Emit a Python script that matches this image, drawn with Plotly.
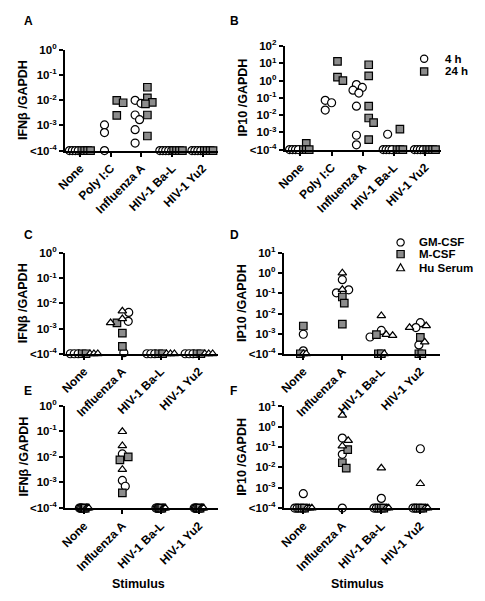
import numpy as np
import plotly.graph_objects as go

W, H = 485, 601
F = 1e-4  # detection floor, drawn as "<10^-4"

cats_ab = ["None", "Poly I:C", "Influenza A", "HIV-1 Ba-L", "HIV-1 Yu2"]
cats_cf = ["None", "Influenza A", "HIV-1 Ba-L", "HIV-1 Yu2"]

# ---- Panel A: IFNb / GAPDH (per stimulus) ----
A_4h = [[F, F, F, F],
        [1.05e-3, 5.2e-4, F],
        [1.0e-2, 7.6e-3, 2.6e-3, 1.7e-3, 6.8e-4, 2.0e-4],
        [F, F, F, F, F],
        [F, F, F, F]]
A_24h = [[F, F, F, F],
         [1.0e-2, 8.0e-3, 2.5e-3],
         [3.3e-2, 1.26e-2, 8.3e-3, 7.2e-3, 2.6e-3, 3.8e-4],
         [F, F, F, F],
         [F, F, F, F]]

# ---- Panel B: IP10 / GAPDH ----
B_4h = [[F, F, F, F],
        [7.2e-2, 5.2e-2, 1.95e-2],
        [0.59, 0.40, 0.28, 0.19, 3.3e-2, 6.8e-4, 1.9e-4],
        [7.8e-4, F, F, F, F],
        [F, F, F, F]]
B_24h = [[2.3e-4, F, F, F],
         [12.9, 1.6, 1.0],
         [8.3, 1.9, 3.3e-2, 6.8e-3, 3.7e-3, 3.8e-4],
         [1.55e-3, F, F, F],
         [F, F, F, F]]

# ---- Panel C: IFNb / GAPDH by culture ----
C_gm = [[F, F, F], [4.4e-3, 1.95e-3, 1.1e-4], [F, F, F], [F, F, F]]
C_m = [[F, F], [1.7e-3, 6.6e-4, 1.95e-4], [F, F], [F, F]]
C_hu = [[F, F, F], [5.0e-3, 2.45e-3, 1.7e-3], [F, F, F], [F, F, F]]

# ---- Panel D: IP10 / GAPDH by culture ----
D_gm = [[9.3e-4, 1.4e-4], [0.48, 0.15, 0.107], [1.45e-3, 6.8e-4], [3.5e-3, 2.0e-3, 2.75e-4]]
D_m = [[2.4e-3, F], [6.6e-2, 3.3e-2, 3.0e-3], [8.9e-4, F, F], [6.5e-4, F, F]]
D_hu = [[F, F], [1.04, 0.155], [7.8e-3, 9.0e-4, 8.0e-4, F], [2.45e-3, 2.0e-3, 3.8e-4]]

# ---- Panel E: IFNb / GAPDH ----
E_gm = [[F, F, F], [1.3e-2, 1.2e-3, 7.1e-4], [F, F, F], [F, F, F]]
E_m = [[F, F, F], [1.0e-2, 7.6e-3, 3.9e-4], [F, F, F], [F, F, F]]
E_hu = [[F, F, F], [9.6e-2, 2.7e-2, 3.2e-3], [F, F, F], [F, F, F]]

# ---- Panel F: IP10 / GAPDH ----
F_gm = [[5.1e-4, F, F], [0.28, 0.044, F], [3.0e-4, F, F], [8.3e-2, F, F]]
F_m = [[F, F, F], [7.6e-2, 1.7e-2, 9.3e-3], [F, F, F], [F, F, F]]
F_hu = [[F, F, F], [3.7, 0.21, 0.115], [9.3e-3, F, F], [1.6e-3, F, F]]

FONT = "Liberation Sans, Arial, sans-serif"
GRAY = "#8c8c8c"
STYLE = {
    "circle": dict(symbol="circle", size=8, color="white", line=dict(color="black", width=1.2)),
    "square": dict(symbol="square", size=7.5, color=GRAY, line=dict(color="black", width=1.2)),
    "triangle": dict(symbol="triangle-up", size=7.5, color="white", line=dict(color="black", width=1.2)),
}

# panel boxes in pixels: (x_left, x_right, y_top, y_bottom)
panels = [
    dict(letter="A", box=(57, 213, 43, 146), top=0, cats=cats_ab, mode="side", gap=3.0,
         series=[("4 h", A_4h, "circle"), ("24 h", A_24h, "square")], ylab="IFNβ /GAPDH"),
    dict(letter="B", box=(281, 440, 39, 145), top=2, cats=cats_ab, mode="side", gap=3.0,
         series=[("4 h", B_4h, "circle"), ("24 h", B_24h, "square")], ylab="IP10 /GAPDH"),
    dict(letter="C", box=(57, 213, 251, 354), top=0, cats=cats_cf, mode="shared", gap=4.0,
         series=[("GM-CSF", C_gm, "circle"), ("M-CSF", C_m, "square"), ("Hu Serum", C_hu, "triangle")],
         ylab="IFNβ /GAPDH"),
    dict(letter="D", box=(280, 439, 251, 354), top=1, cats=cats_cf, mode="shared", gap=3.0,
         series=[("GM-CSF", D_gm, "circle"), ("M-CSF", D_m, "square"), ("Hu Serum", D_hu, "triangle")],
         ylab="IP10 /GAPDH"),
    dict(letter="E", box=(57, 213, 407, 512), top=0, cats=cats_cf, mode="shared", gap=1.2,
         series=[("GM-CSF", E_gm, "circle"), ("M-CSF", E_m, "square"), ("Hu Serum", E_hu, "triangle")],
         ylab="IFNβ /GAPDH"),
    dict(letter="F", box=(280, 439, 408, 512), top=1, cats=cats_cf, mode="shared", gap=2.5,
         series=[("GM-CSF", F_gm, "circle"), ("M-CSF", F_m, "square"), ("Hu Serum", F_hu, "triangle")],
         ylab="IP10 /GAPDH"),
]


def swarm(vals, sidx, gap, px_dec, min_d=6.5):
    """Return horizontal pixel offsets for points (beeswarm); floor values in a row."""
    offs = [0.0] * len(vals)
    floor_ids = sorted([i for i, v in enumerate(vals) if v <= F], key=lambda i: (sidx[i], i))
    n = len(floor_ids)
    for k, i in enumerate(floor_ids):
        offs[i] = (k - (n - 1) / 2) * gap
    rest = sorted([i for i, v in enumerate(vals) if v > F], key=lambda i: -vals[i])
    placed = []
    cands = [0.0]
    for s in range(1, 60):
        cands += [s * 0.5, -s * 0.5]
    for i in rest:
        y = np.log10(vals[i]) * px_dec
        for c in cands:
            if all((c - po) ** 2 + (y - py) ** 2 >= min_d ** 2 for po, py in placed):
                break
        placed.append((c, y))
        offs[i] = c
    return offs


fig = go.Figure()
annotations = []
shapes = []
SIDE_SHIFT = [-6.5, 6.0]

for p_i, p in enumerate(panels, start=1):
    xl, xr, yt, yb = p["box"]
    ncat = len(p["cats"])
    px_x = (xr - xl) / ncat
    px_dec = (yb - yt) / (p["top"] + 4)
    xs = {s[0]: [] for s in p["series"]}
    ys = {s[0]: [] for s in p["series"]}
    for c in range(ncat):
        if p["mode"] == "side":
            for s_i, (name, data, sym) in enumerate(p["series"]):
                vals = data[c]
                offs = swarm(vals, [0] * len(vals), p["gap"], px_dec)
                for v, o in zip(vals, offs):
                    xs[name].append(c + (SIDE_SHIFT[s_i] + o) / px_x)
                    ys[name].append(v)
        else:
            vals, sidx = [], []
            for s_i, (name, data, sym) in enumerate(p["series"]):
                vals += data[c]
                sidx += [s_i] * len(data[c])
            offs = swarm(vals, sidx, p["gap"], px_dec)
            for v, o, si in zip(vals, offs, sidx):
                name = p["series"][si][0]
                xs[name].append(c + o / px_x)
                ys[name].append(v)
    ax = "" if p_i == 1 else str(p_i)
    for name, data, sym in p["series"]:
        fig.add_trace(go.Scatter(x=xs[name], y=ys[name], mode="markers", marker=STYLE[sym],
                                 cliponaxis=False, showlegend=False, name=name,
                                 xaxis="x" + ax, yaxis="y" + ax))
    tickv = [10.0 ** k for k in range(-4, p["top"] + 1)]
    tickt = ["<b>&lt;10<sup>-4</sup></b>"] + ["<b>10<sup>%d</sup></b>" % k for k in range(-3, p["top"] + 1)]
    common = dict(showline=True, linewidth=2, linecolor="black", ticks="outside", ticklen=4,
                  tickwidth=2, tickcolor="black", showgrid=False, zeroline=False)
    fig.layout["xaxis" + ax] = dict(domain=[xl / W, xr / W], range=[-0.5, ncat - 0.5],
                                    tickvals=list(range(ncat)),
                                    ticktext=["<b>%s</b>" % c for c in p["cats"]], tickangle=-45,
                                    tickfont=dict(family=FONT, size=12, color="black"),
                                    anchor="y" + ax, fixedrange=True, **common)
    fig.layout["yaxis" + ax] = dict(domain=[1 - yb / H, 1 - yt / H], type="log",
                                    range=[-4, p["top"]], tickvals=tickv, ticktext=tickt,
                                    tickfont=dict(family=FONT, size=11.5, color="black"),
                                    anchor="x" + ax, fixedrange=True, **common)
    # panel letter
    lx = 13 if xl < 150 else 223
    ly = {43: 13, 39: 13, 251: 232, 407: 392, 408: 392}[yt]
    annotations.append(dict(text="<b>%s</b>" % p["letter"], x=lx / W, y=1 - ly / H, xref="paper",
                            yref="paper", showarrow=False, xanchor="left", yanchor="middle",
                            font=dict(family=FONT, size=12, color="black")))
    # y-axis title
    tx = 15 if xl < 150 else 238
    annotations.append(dict(text="<b>%s</b>" % p["ylab"], x=tx / W, y=1 - (yt + yb) / 2 / H,
                            xref="paper", yref="paper", showarrow=False, textangle=-90,
                            xanchor="center", yanchor="middle",
                            font=dict(family=FONT, size=12.5, color="black")))

# x titles
for cx in (132, 355):
    annotations.append(dict(text="<b>Stimulus</b>", x=cx / W, y=1 - 590 / H, xref="paper",
                            yref="paper", showarrow=False, xanchor="center", yanchor="middle",
                            font=dict(family=FONT, size=12.5, color="black")))


# legends (symbols as layout shapes, labels as annotations)
def legend_item(cx, cy, sym, label, tx):
    r = 3.7
    if sym == "circle":
        shapes.append(dict(type="circle", xref="paper", yref="paper", x0=(cx - r) / W, x1=(cx + r) / W,
                           y0=1 - (cy + r) / H, y1=1 - (cy - r) / H, fillcolor="white",
                           line=dict(color="black", width=1.2)))
    elif sym == "square":
        shapes.append(dict(type="rect", xref="paper", yref="paper", x0=(cx - r) / W, x1=(cx + r) / W,
                           y0=1 - (cy + r) / H, y1=1 - (cy - r) / H, fillcolor=GRAY,
                           line=dict(color="black", width=1.2)))
    else:
        pts = [(cx, cy - 4.2), (cx + 4, cy + 3), (cx - 4, cy + 3)]
        path = "M " + " L ".join("%f,%f" % (x / W, 1 - y / H) for x, y in pts) + " Z"
        shapes.append(dict(type="path", xref="paper", yref="paper", path=path, fillcolor="white",
                           line=dict(color="black", width=1.2)))
    annotations.append(dict(text="<b>%s</b>" % label, x=tx / W, y=1 - cy / H, xref="paper",
                            yref="paper", showarrow=False, xanchor="left", yanchor="middle",
                            font=dict(family=FONT, size=11.5, color="black")))


legend_item(423, 52, "circle", "4 h", 442)
legend_item(423, 65, "square", "24 h", 442)
legend_item(399, 240, "circle", "GM-CSF", 416)
legend_item(399, 252, "square", "M-CSF", 416)
legend_item(399, 266, "triangle", "Hu Serum", 416)

fig.update_layout(width=W, height=H, margin=dict(l=0, r=0, t=0, b=0), autosize=False,
                  paper_bgcolor="white", plot_bgcolor="white", showlegend=False,
                  annotations=annotations, shapes=shapes)
fig.write_html("out.html", config={"displayModeBar": False},
               post_script="document.body.style.margin='0';document.body.style.overflow='hidden';")
